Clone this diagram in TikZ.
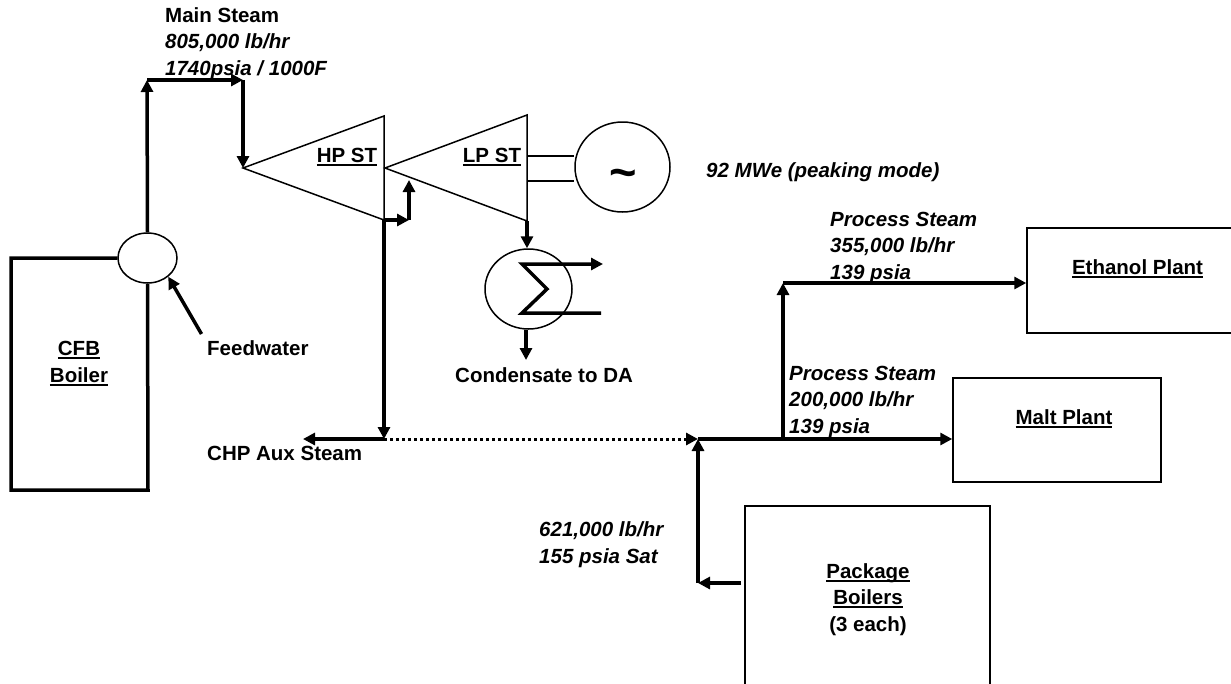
\documentclass[tikz,border=0pt]{standalone}
\usepackage{fontspec}
\setmainfont{Liberation Sans}
\usetikzlibrary{arrows.meta, shapes.geometric}
\newcommand{\ultext}[1]{\setbox0\hbox{#1}\rlap{\rule[-3.6pt]{\wd0}{2pt}}\box0}
\tikzset{
  pipe/.style={line width=3.5pt, line join=miter},
  arr/.style={pipe, -{Triangle[length=12pt,width=12pt]}},
  dotarr/.style={line width=3pt, dash pattern=on 3pt off 3pt, -{Triangle[length=12pt,width=12pt]}},
  thinline/.style={line width=1.5pt},
  plantbox/.style={draw, line width=1.5pt, rectangle, inner sep=0pt},
  vessel/.style={draw, line width=1.5pt, ellipse, inner sep=0pt},
  lbl/.style={font=\fontsize{20.5}{26.5}\selectfont\bfseries, inner sep=0pt, anchor=base west, align=left},
  ilbl/.style={lbl, font=\fontsize{20.5}{26.5}\selectfont\bfseries\itshape},
  clbl/.style={lbl, anchor=base, align=center},
}
\begin{document}
\begin{tikzpicture}[x=1pt, y=-1pt]
    \path[use as bounding box, clip] (0,0) rectangle (1231,683);

    \node[vessel, minimum width=59pt, minimum height=50pt] (drum) at (147.5,258) {};
    \node[vessel, minimum width=95pt, minimum height=90pt] (gen) at (622.5,167) {};
    \node[vessel, minimum width=87pt, minimum height=80pt] (cond) at (528.5,289) {};
    \node[plantbox, minimum width=250pt, minimum height=105pt] (ethanol) at (1152,280.5) {};
    \node[plantbox, minimum width=208pt, minimum height=104pt] (malt) at (1057,430) {};
    \node[plantbox, minimum width=245pt, minimum height=220pt] (pkg) at (867.5,616) {};

    \coordinate (boilertl) at (11,258);
    \coordinate (boilerbl) at (11,490);
    \coordinate (boilerbr) at (148,490);
    \coordinate (msup) at (147,80);
    \coordinate (msright) at (243,80);
    \coordinate (hpin) at (243,168);
    \coordinate (hptop) at (384,116);
    \coordinate (hpbot) at (384,220);
    \coordinate (lpin) at (385,168);
    \coordinate (lptop) at (527,115);
    \coordinate (lpbot) at (527,221);
    \coordinate (xover) at (409,220);
    \coordinate (xoverup) at (409,180);
    \coordinate (aux) at (384,439);
    \coordinate (auxend) at (303,439);
    \coordinate (hdr) at (698,439);
    \coordinate (branch) at (783,439);
    \coordinate (branchup) at (783,283);
    \coordinate (pkgturn) at (698,583);
    \coordinate (pkgout) at (741,583);
    \coordinate (fwstart) at (201.5,334);
    \coordinate (shaft1) at (527,156);
    \coordinate (shaft2) at (527,181);
    \coordinate (condout) at (526,360);
    \coordinate (tubeout) at (603,264);
    \coordinate (tube1) at (522,264);
    \coordinate (tube2) at (547,289);
    \coordinate (tube3) at (522,313);
    \coordinate (tube4) at (601,313);

    % boiler and main steam
    \draw[pipe] (drum.west) -- (boilertl) -- (boilerbl) -- (boilerbr) -- (drum.south);
    \draw[arr] (drum.north) -- (msup);
    \draw[arr] (msup) -- (msright);
    \draw[arr] (msright) -- (hpin);
    \draw[arr] (fwstart) -- (drum.-42);

    % turbines
    \draw[thinline] (hpin) -- (hptop) -- (hpbot) -- cycle;
    \draw[thinline] (lpin) -- (lptop) -- (lpbot) -- cycle;
    \draw[thinline] (shaft1) -- (shaft1 -| gen.west);
    \draw[thinline] (shaft2) -- (shaft2 -| gen.west);
    \draw[arr] (hpbot) -- (xover);
    \draw[arr] (xover) -- (xoverup);
    \draw[arr] (hpbot) -- (aux);
    \draw[arr] (aux) -- (auxend);

    % condenser
    \draw[arr] (lpbot) -- (lpbot |- cond.north);
    \draw[arr] (tube4) -- (tube3) -- (tube2) -- (tube1) -- (tubeout);
    \draw[arr] (cond.south -| condout) -- (condout);

    % process steam header
    \draw[dotarr] (aux) -- (hdr);
    \draw[arr] (hdr) -- (hdr -| malt.west);
    \draw[arr] (branch) -- (branchup);
    \draw[arr] (branchup) -- (branchup -| ethanol.west);
    \draw[arr] (pkgout) -- (pkgturn);
    \draw[arr] (pkgturn) -- (hdr);

    \node[ilbl] (msl) at (165,75) {\textup{Main Steam}\\805,000 lb/hr\\1740psia / 1000F};
    \node[clbl] (hpl) at (347,162) {\ultext{HP ST}};
    \node[clbl] (lpl) at (492,162) {\ultext{LP ST}};
    \node[lbl, font=\fontsize{47}{47}\selectfont\bfseries, anchor=center] (gensym) at (623,179) {\char`\~};
    \node[ilbl] (power) at (706,177) {92 MWe (peaking mode)};
    \node[clbl] (cfbl) at (79,382) {\ultext{CFB}\\\ultext{Boiler}};
    \node[lbl] (fwl) at (207,355) {Feedwater};
    \node[lbl] (auxl) at (207,460) {CHP Aux Steam};
    \node[lbl] (condl) at (455,382) {Condensate to DA};
    \node[ilbl] (ps1) at (830,279) {Process Steam\\355,000 lb/hr\\139 psia};
    \node[ilbl] (ps2) at (789,433) {Process Steam\\200,000 lb/hr\\139 psia};
    \node[ilbl] (pkgflow) at (539,563) {621,000 lb/hr\\155 psia Sat};
    \node[clbl] (ethl) at (1137.5,274) {\ultext{Ethanol Plant}};
    \node[clbl] (maltl) at (1064,424) {\ultext{Malt Plant}};
    \node[clbl] (pkgl) at (868,631) {\ultext{Package}\\\ultext{Boilers}\\(3 each)};
  \end{tikzpicture}
\end{document}
